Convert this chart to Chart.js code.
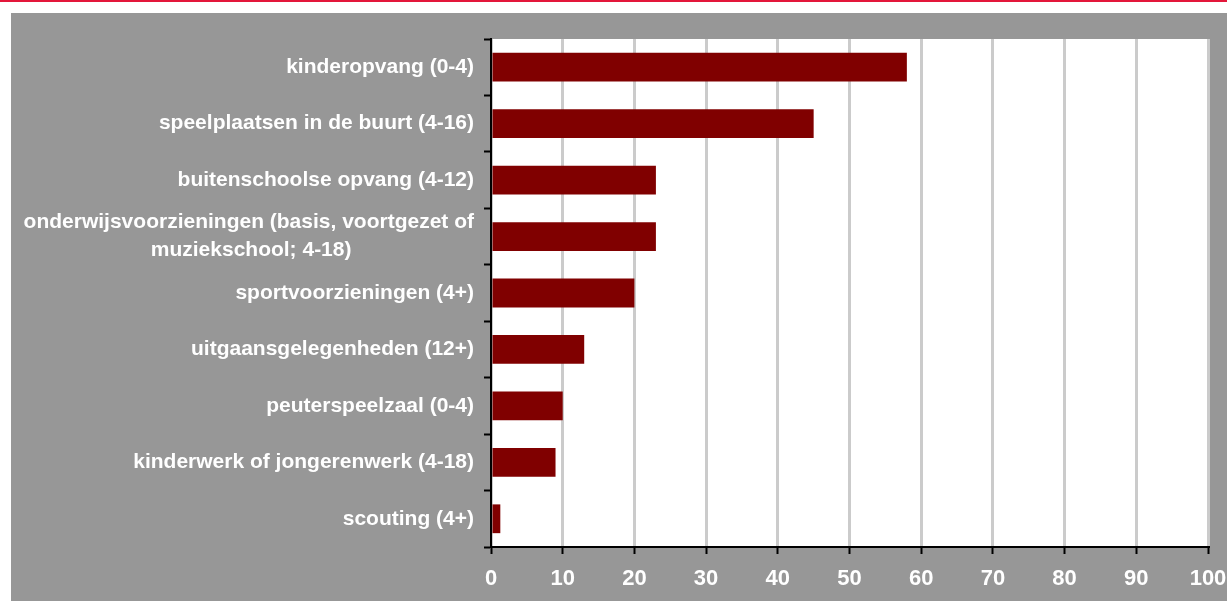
<!DOCTYPE html>
<html>
<head>
<meta charset="utf-8">
<script src="https://cdn.jsdelivr.net/npm/chart.js@4"></script>
<style>
  body { margin: 0; background: #fff; width: 1227px; height: 601px; overflow: hidden; position: relative; }
  #redline { position: absolute; left: 0; top: 0; width: 1227px; height: 2px; background: #e3173a; }
  #panel { position: absolute; left: 11px; top: 13px; width: 1216px; height: 588px; background: #979797; }
</style>
</head>
<body>
<div id="redline"></div>
<div id="panel"><canvas id="myChart" width="1216" height="588"></canvas></div>
<script>
// categories and values
var categories = [
    'kinderopvang (0-4)',
    'speelplaatsen in de buurt (4-16)',
    'buitenschoolse opvang (4-12)',
    ['onderwijsvoorzieningen (basis, voortgezet of', 'muziekschool; 4-18)'],
    'sportvoorzieningen (4+)',
    'uitgaansgelegenheden (12+)',
    'peuterspeelzaal (0-4)',
    'kinderwerk of jongerenwerk (4-18)',
    'scouting (4+)'
];
var values = [58, 45, 23, 23, 20, 13, 10, 9, 1.3];
var xMin = 0, xMax = 100, xStep = 10;

var labelFont = 'bold 21px "Liberation Sans", Arial, Helvetica, sans-serif';

// center the lines of a wrapped label (Excel style) while the axis aligns right
var measure = document.createElement('canvas').getContext('2d');
measure.font = labelFont;
function centerLines(lbl){
    if(!Array.isArray(lbl)) return lbl;
    var widest = Math.max.apply(null, lbl.map(function(l){ return measure.measureText(l).width; }));
    var sp = measure.measureText(' ').width;
    return lbl.map(function(l){
        var n = Math.round((widest - measure.measureText(l).width) / 2 / sp);
        return l + ' '.repeat(n);
    });
}
var labels = categories.map(centerLines);

var whiteArea = {
    id: 'whiteArea',
    beforeDraw: function(chart){
        var a = chart.chartArea, c = chart.ctx;
        c.save();
        c.fillStyle = '#ffffff';
        c.fillRect(a.left, a.top, a.right - a.left, a.bottom - a.top);
        c.restore();
    }
};

var ctx = document.getElementById('myChart');
var myChart = new Chart(ctx, {
    type: 'bar',
    data: {
        labels: labels,
        datasets: [{
            data: values,
            backgroundColor: '#800000',
            borderWidth: 0,
            barPercentage: 0.51,
            categoryPercentage: 1
        }]
    },
    options: {
        indexAxis: 'y',
        responsive: false,
        animation: false,
        layout: { padding: { top: 26, right: 0, left: 0, bottom: 0 } },
        plugins: { legend: { display: false }, tooltip: { enabled: false } },
        scales: {
            y: {
                afterFit: function(s){ s.width = 480; },
                grid: { offset: true, drawOnChartArea: false, drawTicks: true, tickLength: 7, tickColor: '#000', tickWidth: 2 },
                border: { color: '#000', width: 2 },
                ticks: {
                    color: '#ffffff',
                    padding: 10,
                    autoSkip: false,
                    font: { family: '"Liberation Sans", Arial, Helvetica, sans-serif', size: 21, weight: 'bold', lineHeight: 1.33 }
                }
            },
            x: {
                min: xMin,
                max: xMax,
                afterFit: function(s){ s.height = 54; s.paddingRight = 19; },
                grid: { color: '#cbcbcb', lineWidth: 3, drawTicks: true, tickLength: 7, tickColor: '#000', tickWidth: 2 },
                border: { color: '#000', width: 2 },
                ticks: {
                    stepSize: xStep,
                    color: '#ffffff',
                    padding: 12,
                    maxRotation: 0,
                    font: { family: '"Liberation Sans", Arial, Helvetica, sans-serif', size: 22, weight: 'bold' }
                }
            }
        }
    },
    plugins: [whiteArea]
});
</script>
</body>
</html>
